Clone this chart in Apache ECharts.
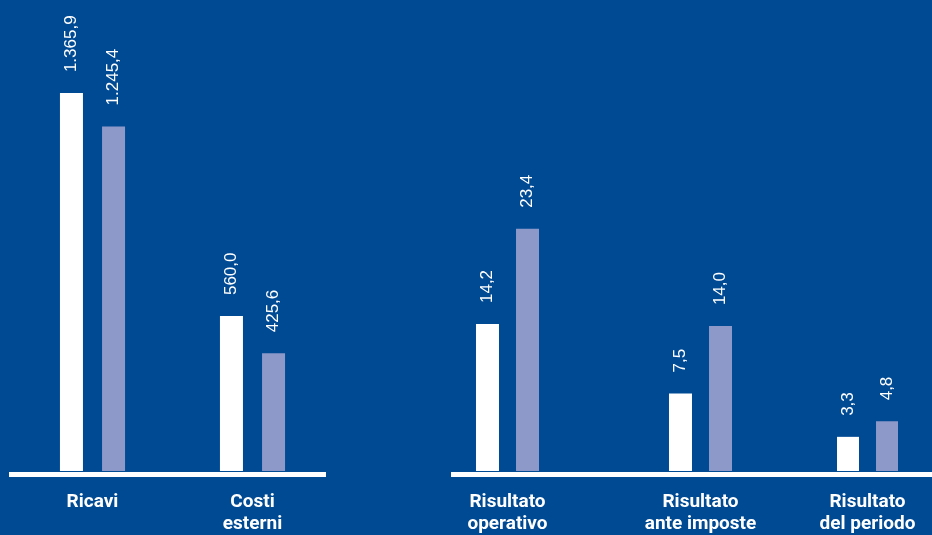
<!DOCTYPE html>
<html>
<head>
<meta charset="utf-8">
<script src="https://cdn.jsdelivr.net/npm/echarts@6/dist/echarts.min.js"></script>
<style>
  html, body { margin: 0; padding: 0; background: #004a94; }
  #chart { width: 932px; height: 535px; }
</style>
</head>
<body>
<div id="chart"></div>
<script>
// Revenue and external costs (left panel, millions)
const leftCategories = ['Ricavi', 'Costi\nesterni'];
const leftCurrent = [1365.9, 560.0];
const leftPrevious = [1245.4, 425.6];

// Results (right panel, millions)
const rightCategories = ['Risultato\noperativo', 'Risultato\nante imposte', 'Risultato\ndel periodo'];
const rightCurrent = [14.2, 7.5, 3.3];
const rightPrevious = [23.4, 14.0, 4.8];

const WHITE = '#ffffff';
const LILAC = '#8d99c9';
const FONT = '"Liberation Sans", Arial, Helvetica, sans-serif';
const FONT_CAT = 'Roboto, "Liberation Sans", Arial, sans-serif';

// Italian number format: thousands '.', decimals ','
function fmtIt(v) {
  const parts = v.toFixed(1).split('.');
  const intPart = parts[0].replace(/\B(?=(\d{3})+(?!\d))/g, '.');
  return intPart + ',' + parts[1];
}

const valueLabel = {
  show: true,
  position: 'top',
  rotate: 90,
  align: 'left',
  verticalAlign: 'middle',
  distance: 21,
  color: WHITE,
  fontFamily: FONT,
  fontSize: 17,
  formatter: p => fmtIt(p.value)
};

const catLabel = {
  color: WHITE,
  fontFamily: FONT_CAT,
  fontSize: 19,
  fontWeight: 'bold',
  lineHeight: 22,
  margin: 20,
  interval: 0
};

const H_L = 415, MAX_L = 1500;
const H_R = 414, MAX_R = 40;
const BAR_BOTTOM = 64;   // bar baseline at y = 471
const RULE_BOTTOM = 61;  // baseline rule centred at y = 474

// Grids: 0/1 = baseline rules for each panel, 2 = left bars, 3..5 = right bars
const grids = [
  { left: 9, width: 317, bottom: RULE_BOTTOM, height: H_L },
  { left: 451, right: 0, bottom: RULE_BOTTOM, height: H_R },
  { left: 12.5, width: 320, bottom: BAR_BOTTOM, height: H_L },
  { left: 451, width: 113, bottom: BAR_BOTTOM, height: H_R },
  { left: 564, width: 273, bottom: BAR_BOTTOM, height: H_R },
  { left: 837, width: 61, bottom: BAR_BOTTOM, height: H_R }
];

const xAxes = [];
const yAxes = [];
const series = [];

function ruleAxis(gi, max) {
  xAxes.push({
    gridIndex: gi, type: 'category', data: [''],
    axisLine: { show: true, lineStyle: { color: WHITE, width: 5, cap: 'butt' } },
    axisTick: { show: false }, axisLabel: { show: false }, splitLine: { show: false }
  });
  yAxes.push({ gridIndex: gi, type: 'value', min: 0, max: max, show: false, splitLine: { show: false } });
}
ruleAxis(0, MAX_L);
ruleAxis(1, MAX_R);

function barGrid(gi, cats, cur, prev, max, gap) {
  const axisIdx = xAxes.length;
  xAxes.push({
    gridIndex: gi, type: 'category', data: cats,
    axisLine: { show: false }, axisTick: { show: false },
    axisLabel: catLabel, splitLine: { show: false }
  });
  yAxes.push({ gridIndex: gi, type: 'value', min: 0, max: max, show: false, splitLine: { show: false } });
  series.push({
    type: 'bar', name: 'Periodo corrente', xAxisIndex: axisIdx, yAxisIndex: axisIdx,
    data: cur, barWidth: 23, barGap: gap,
    itemStyle: { color: WHITE }, label: valueLabel, z: 3
  });
  series.push({
    type: 'bar', name: 'Periodo precedente', xAxisIndex: axisIdx, yAxisIndex: axisIdx,
    data: prev, barWidth: 23, barGap: gap,
    itemStyle: { color: LILAC }, label: valueLabel, z: 3
  });
}

barGrid(2, leftCategories, leftCurrent, leftPrevious, MAX_L, '83%');
rightCategories.forEach((c, i) => {
  barGrid(3 + i, [c], [rightCurrent[i]], [rightPrevious[i]], MAX_R, '74%');
});

const chart = echarts.init(document.getElementById('chart'), null, { renderer: 'canvas' });
chart.setOption({
  backgroundColor: '#004a94',
  animation: false,
  grid: grids,
  xAxis: xAxes,
  yAxis: yAxes,
  series: series
});
</script>
</body>
</html>
